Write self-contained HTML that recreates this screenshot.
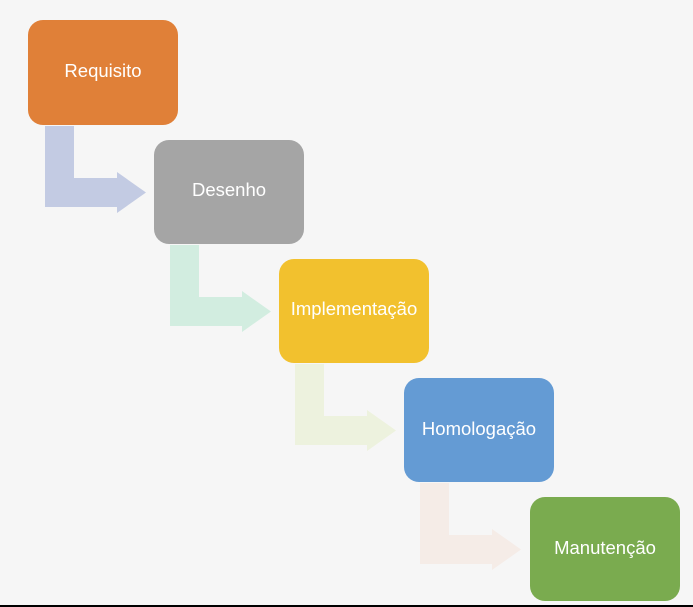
<!DOCTYPE html>
<html><head><meta charset="utf-8"><style>
html,body{margin:0;padding:0;background:#f6f6f6;width:693px;height:607px;overflow:hidden}
svg{display:block}
text{font-family:"Liberation Sans","DejaVu Sans",sans-serif;font-size:18.5px;fill:#fff;text-anchor:middle;dominant-baseline:middle}
</style></head><body>
<svg width="693" height="607" viewBox="0 0 693 607">
<rect x="0" y="0" width="693" height="607" fill="#f6f6f6"/>
<g>
<polygon transform="translate(0,0)" fill="#c3cbe3" points="45,126 74,126 74,178 117,178 117,172 146,192.5 117,213 117,207 45,207"/>
<polygon transform="translate(125,119)" fill="#d2ede0" points="45,126 74,126 74,178 117,178 117,172 146,192.5 117,213 117,207 45,207"/>
<polygon transform="translate(250,238)" fill="#edf2de" points="45,126 74,126 74,178 117,178 117,172 146,192.5 117,213 117,207 45,207"/>
<polygon transform="translate(375,357)" fill="#f5ece7" points="45,126 74,126 74,178 117,178 117,172 146,192.5 117,213 117,207 45,207"/>
</g>
<rect x="28" y="20" width="150" height="105" rx="15" fill="#e08038"/>
<text x="103" y="72">Requisito</text>
<rect x="154" y="140" width="150" height="104" rx="15" fill="#a5a5a5"/>
<text x="229" y="191">Desenho</text>
<rect x="279" y="259" width="150" height="104" rx="15" fill="#f2c12e"/>
<text x="354" y="310">Implementação</text>
<rect x="404" y="378" width="150" height="104" rx="15" fill="#649bd4"/>
<text x="479" y="430">Homologação</text>
<rect x="530" y="497" width="150" height="104" rx="15" fill="#7aab4f"/>
<text x="605" y="549">Manutenção</text>
<rect x="0" y="605" width="693" height="2" fill="#000"/>
</svg>
</body></html>
